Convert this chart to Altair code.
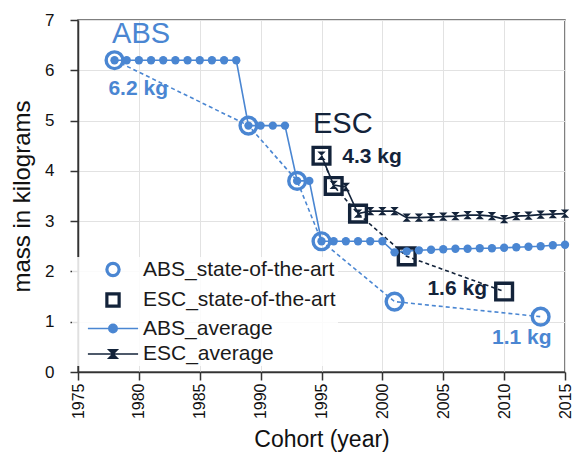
import altair as alt
import pandas as pd

BLUE = "#4A86D2"
NAVY = "#13233A"
FONT = "Liberation Sans"

series_order = ["ABS_state-of-the-art", "ESC_state-of-the-art", "ABS_average", "ESC_average"]

abs_sota_year = [1978, 1989, 1993, 1995, 2001, 2013]
abs_sota_mass = [6.2, 4.9, 3.8, 2.6, 1.4, 1.1]

esc_sota_year = [1995, 1996, 1998, 2002, 2010]
esc_sota_mass = [4.3, 3.7, 3.15, 2.3, 1.6]

abs_avg_year = [1978, 1979, 1980, 1981, 1982, 1983, 1984, 1985, 1986, 1987, 1988,
                1989, 1990, 1991, 1992, 1993, 1994, 1995, 1996, 1997, 1998, 1999,
                2000, 2001, 2002, 2003, 2004, 2005, 2006, 2007, 2008, 2009, 2010,
                2011, 2012, 2013, 2014, 2015]
abs_avg_mass = [6.2, 6.2, 6.2, 6.2, 6.2, 6.2, 6.2, 6.2, 6.2, 6.2, 6.2,
                4.9, 4.9, 4.9, 4.9, 3.8, 3.8, 2.6, 2.6, 2.6, 2.6, 2.6,
                2.6, 2.38, 2.4, 2.42, 2.43, 2.44, 2.45, 2.45, 2.46, 2.46, 2.47,
                2.48, 2.49, 2.5, 2.52, 2.53]

esc_avg_year = [1995, 1996, 1997, 1998, 1999, 2000, 2001, 2002, 2003, 2004, 2005,
                2006, 2007, 2008, 2009, 2010, 2011, 2012, 2013, 2014, 2015]
esc_avg_mass = [4.3, 3.72, 3.68, 3.15, 3.2, 3.2, 3.2, 3.07, 3.07, 3.08, 3.09,
                3.1, 3.12, 3.12, 3.1, 3.04, 3.1, 3.11, 3.13, 3.14, 3.15]

x_ticks = [1975, 1980, 1985, 1990, 1995, 2000, 2005, 2010, 2015]
y_ticks = [0, 1, 2, 3, 4, 5, 6, 7]

# annotations (text, group, kind, anchor year, anchor mass)
ann_text = ["ABS", "ESC", "6.2 kg", "4.3 kg", "1.6 kg", "1.1 kg"]
ann_group = ["ABS", "ESC", "ABS", "ESC", "ESC", "ABS"]
ann_kind = ["name", "name", "value", "value", "value", "value"]
ann_year = [1977.8, 1994.3, 1977.5, 1996.7, 2003.7, 2009.0]
ann_mass = [6.55, 4.75, 5.5, 4.16, 1.53, 0.55]

rows = []
for s, yrs, ms in [
    (series_order[0], abs_sota_year, abs_sota_mass),
    (series_order[1], esc_sota_year, esc_sota_mass),
    (series_order[2], abs_avg_year, abs_avg_mass),
    (series_order[3], esc_avg_year, esc_avg_mass),
]:
    for yv, mv in zip(yrs, ms):
        rows.append({"series": s, "year": yv, "mass": mv})
df = pd.DataFrame(rows)

ann = pd.DataFrame({"label": ann_text, "group": ann_group, "kind": ann_kind,
                    "year": ann_year, "mass": ann_mass})

x_enc = alt.X("year:Q", scale=alt.Scale(domain=[1975, 2015], nice=False, zero=False),
              axis=alt.Axis(values=x_ticks, format="d", labelAngle=270, title="Cohort (year)",
                            labelPadding=3, titlePadding=10, titleFontSize=23, tickSize=8))
y_enc = alt.Y("mass:Q", scale=alt.Scale(domain=[0, 7], nice=False),
              axis=alt.Axis(values=y_ticks, title="mass in kilograms",
                            labelPadding=16, titlePadding=10, titleFontSize=24, tickSize=8))

base = alt.Chart(df)


def sub(series):
    return base.transform_filter(alt.datum.series == series)


def line(series, color, dash=None):
    kw = dict(color=color, strokeWidth=1.6)
    if dash:
        kw["strokeDash"] = dash
    return sub(series).mark_line(**kw).encode(x=x_enc, y=y_enc, order="year:Q")


HOURGLASS = "M-1,-1L1,-1L-1,1L1,1Z"
LEG_ABS_AVG = "M-6,0L6,0M1,0A1,1 0 1 1 -1,0A1,1 0 1 1 1,0Z"
LEG_ESC_AVG = "M-6,0L6,0M-1,-1L1,-1L-1,1L1,1Z"

abs_sota_pts = sub(series_order[0]).mark_point(
    shape="circle", size=280, strokeWidth=3.4, color=BLUE, filled=False, opacity=1
).encode(x=x_enc, y=y_enc)
esc_sota_pts = sub(series_order[1]).mark_point(
    shape="square", size=280, strokeWidth=3.4, color=NAVY, filled=False, opacity=1
).encode(x=x_enc, y=y_enc)
abs_avg_pts = sub(series_order[2]).mark_point(
    shape="circle", size=70, strokeWidth=1, color=BLUE, filled=True, opacity=1
).encode(x=x_enc, y=y_enc)
esc_avg_pts = sub(series_order[3]).mark_point(
    shape=HOURGLASS, size=70, strokeWidth=1, color=NAVY, filled=True, opacity=1
).encode(x=x_enc, y=y_enc)

legend = alt.Legend(
    title=None, orient="none", legendX=-6, legendY=237, direction="vertical",
    padding=2, rowPadding=3.5, symbolOffset=28.5, labelOffset=19.5,
    labelFontSize=21, labelFont=FONT, labelColor="#1a1a1a", labelLimit=400,
    fillColor="rgba(255,255,255,0.85)", symbolOpacity=1,
)

legend_layer = base.mark_point(filled=True, opacity=0).encode(
    x=x_enc, y=y_enc,
    shape=alt.Shape("series:N", scale=alt.Scale(domain=series_order,
                    range=["circle", "square", LEG_ABS_AVG, LEG_ESC_AVG]), legend=legend),
    fill=alt.Fill("series:N", scale=alt.Scale(domain=series_order,
                  range=["transparent", "transparent", BLUE, NAVY]), legend=legend),
    stroke=alt.Stroke("series:N", scale=alt.Scale(domain=series_order,
                      range=[BLUE, NAVY, BLUE, NAVY]), legend=legend),
    size=alt.Size("series:N", scale=alt.Scale(type="ordinal", domain=series_order,
                  range=[150, 150, 70, 70]), legend=legend),
    strokeWidth=alt.StrokeWidth("series:N", scale=alt.Scale(type="ordinal", domain=series_order,
                                range=[3.2, 3.2, 1.6, 1.6]), legend=legend),
)

ann_color = alt.Color("group:N", scale=alt.Scale(domain=["ABS", "ESC"], range=[BLUE, NAVY]), legend=None)
names = alt.Chart(ann).transform_filter(alt.datum.kind == "name").mark_text(
    align="left", baseline="alphabetic", font=FONT, fontSize=29).encode(
    x=x_enc, y=y_enc, text="label:N", color=ann_color)
values = alt.Chart(ann).transform_filter(alt.datum.kind == "value").mark_text(
    align="left", baseline="alphabetic", font=FONT, fontSize=21, fontWeight="bold").encode(
    x=x_enc, y=y_enc, text="label:N", color=ann_color)

chart = alt.layer(
    line(series_order[0], BLUE, [4, 3]),
    line(series_order[1], NAVY, [4, 3]),
    line(series_order[2], BLUE),
    line(series_order[3], NAVY),
    abs_sota_pts, esc_sota_pts, abs_avg_pts, esc_avg_pts,
    legend_layer, names, values,
).properties(
    width=487, height=352,
    autosize=alt.AutoSizeParams(type="none"),
    padding={"left": 78, "top": 20, "right": 12, "bottom": 84},
).configure_view(
    stroke="#555555", strokeWidth=1.5
).configure_axis(
    domainColor="#333333", domainWidth=1.5, tickColor="#333333", tickWidth=1.5, tickSize=8,
    gridColor="#e2e2e2", gridWidth=1, labelFont=FONT, labelFontSize=17, labelColor="#111111",
    titleFont=FONT, titleColor="#111111", titleFontWeight="normal"
).configure_axisX(labelFontSize=16)

chart.save("out.html", embed_options={"renderer": "svg", "actions": False})
